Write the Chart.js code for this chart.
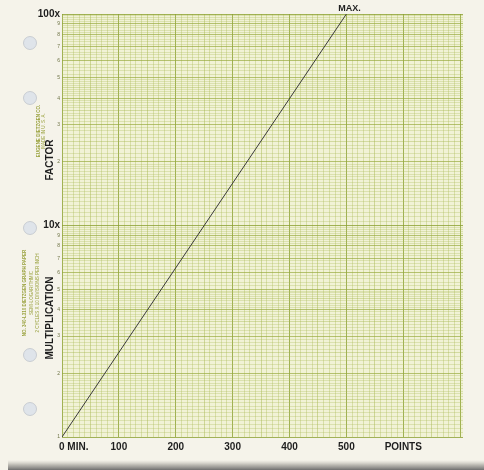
<!DOCTYPE html>
<html>
<head>
<meta charset="utf-8">
<script src="https://cdn.jsdelivr.net/npm/chart.js@4.4.0/dist/chart.umd.min.js"></script>
<style>
  html, body { margin: 0; padding: 0; background: #f5f3ea; }
  #wrap { width: 484px; height: 470px; }
</style>
</head>
<body>
<div id="wrap"><canvas id="paperChart" width="484" height="470"></canvas></div>
<script>
// the one line drawn on the semi-log paper
const pointsX = [0, 500];
const factorY = [1, 100];

// axis labels
const xLabelValues = [0, 100, 200, 300, 400, 500, 600];
const xLabels = ['0 MIN.', '100', '200', '300', '400', '500', 'POINTS'];
const decadeLabels = { 1: '1', 10: '10x', 100: '100x' };
const cycleDigits = [2, 3, 4, 5, 6, 7, 8, 9];

const xMin = 0, xMax = 705;
const paperColor = '#f5f3ea';
const plotColor = '#f1f2d6';
const ink = '#1e1e1e';
const printGreen = '#9aa23e';

// 10 divisions per inch on x
function xGridValues() {
    const vals = [];
    for (let v = 0; v <= 700; v += 10) vals.push({ value: v });
    return vals;
}

// usual 2-cycle log ruling: fine steps 1-2, 2-5, 5-10
function yGridValues() {
    const vals = [];
    [1, 10].forEach(d => {
        for (let i = 0; i < 20; i++) vals.push(d * (1 + i * 0.05));
        for (let i = 0; i < 30; i++) vals.push(d * (2 + i * 0.1));
        for (let i = 0; i < 25; i++) vals.push(d * (5 + i * 0.2));
    });
    vals.push(100);
    return vals.map(v => ({ value: +v.toFixed(3) }));
}

function yKind(v) {
    if (v === 1 || v === 10 || v === 100) return 'decade';
    const d = v >= 10 ? 10 : 1;
    const m = v / d;
    if (Math.abs(m - Math.round(m)) < 1e-6) return 'unit';
    if (m < 5 && Math.abs(m * 2 - Math.round(m * 2)) < 1e-6) return 'half';
    return 'minor';
}

const lineColors = {
    decade: 'rgba(140,160,50,0.8)',
    unit: 'rgba(150,170,60,0.68)',
    half: 'rgba(160,178,70,0.55)',
    minor: 'rgba(172,188,88,0.45)'
};

function vText(ctx, text, x, y, font, color) {
    ctx.save();
    ctx.translate(x, y);
    ctx.rotate(-Math.PI / 2);
    ctx.font = font;
    ctx.fillStyle = color;
    ctx.textAlign = 'center';
    ctx.textBaseline = 'middle';
    ctx.fillText(text, 0, 0);
    ctx.restore();
}

const paperPlugin = {
    id: 'paper',
    beforeDraw(chart) {
        const ctx = chart.ctx;
        const a = chart.chartArea;
        ctx.save();
        ctx.fillStyle = paperColor;
        ctx.fillRect(0, 0, chart.width, chart.height);
        // page edge shadow at the bottom
        const g = ctx.createLinearGradient(0, 460, 0, 470);
        g.addColorStop(0, 'rgba(200,198,190,0)');
        g.addColorStop(0.5, 'rgba(170,168,162,0.8)');
        g.addColorStop(1, 'rgba(110,110,110,1)');
        ctx.fillStyle = g;
        ctx.fillRect(8, 460, chart.width - 8, 10);
        // binder holes
        [43, 98, 228, 355, 409].forEach(y => {
            ctx.beginPath();
            ctx.arc(30, y, 6.5, 0, Math.PI * 2);
            ctx.fillStyle = '#dfe4ea';
            ctx.fill();
            ctx.strokeStyle = 'rgba(175,180,190,0.7)';
            ctx.lineWidth = 0.8;
            ctx.stroke();
        });
        ctx.fillStyle = plotColor;
        ctx.fillRect(a.left, a.top, a.right - a.left, a.bottom - a.top);
        ctx.restore();
    },
    afterDraw(chart) {
        const ctx = chart.ctx;
        const xs = chart.scales.x;
        const a = chart.chartArea;
        ctx.save();
        ctx.font = 'bold 10px "Liberation Sans", Arial, sans-serif';
        ctx.fillStyle = ink;
        ctx.textBaseline = 'middle';
        xLabelValues.forEach((v, i) => {
            const px = xs.getPixelForValue(v);
            ctx.textAlign = i === 0 ? 'left' : 'center';
            ctx.fillText(xLabels[i], i === 0 ? px - 3 : px, a.bottom + 10);
        });
        ctx.font = 'bold 9px "Liberation Sans", Arial, sans-serif';
        ctx.textAlign = 'center';
        ctx.fillText('MAX.', xs.getPixelForValue(pointsX[1]) + 3, a.top - 5);
        ctx.restore();

        const bold = 'bold 10px "Liberation Sans", Arial, sans-serif';
        vText(ctx, 'FACTOR', 50, 160, bold, ink);
        vText(ctx, 'MULTIPLICATION', 50, 318, bold, ink);
        const tiny = '4.5px "Liberation Sans", Arial, sans-serif';
        vText(ctx, 'EUGENE DIETZGEN CO.', 39, 131, 'bold ' + tiny, printGreen);
        vText(ctx, 'MADE IN U. S. A.', 44, 131, tiny, printGreen);
        vText(ctx, 'NO. 340-L310 DIETZGEN GRAPH PAPER', 25, 293, 'bold ' + tiny, printGreen);
        vText(ctx, 'SEMI-LOGARITHMIC', 32, 293, tiny, printGreen);
        vText(ctx, '2 CYCLES X 10 DIVISIONS PER INCH', 38, 293, tiny, printGreen);
    }
};

const ctx = document.getElementById('paperChart').getContext('2d');
new Chart(ctx, {
    type: 'scatter',
    data: {
        datasets: [{
            label: 'Factor',
            data: pointsX.map((x, i) => ({ x: x, y: factorY[i] })),
            showLine: true,
            borderColor: '#3a3a3a',
            borderWidth: 1,
            pointRadius: 0,
            fill: false
        }]
    },
    options: {
        responsive: false,
        animation: false,
        devicePixelRatio: 1,
        layout: { padding: { left: 0, top: 14, right: 21, bottom: 33 } },
        plugins: { legend: { display: false }, tooltip: { enabled: false } },
        scales: {
            x: {
                type: 'linear',
                min: xMin,
                max: xMax,
                afterBuildTicks: scale => { scale.ticks = xGridValues(); },
                ticks: { display: false },
                grid: {
                    drawTicks: false,
                    color: c => {
                        const v = c.tick ? c.tick.value : 0;
                        if (v % 100 === 0) return lineColors.decade;
                        if (v % 50 === 0) return lineColors.half;
                        return lineColors.minor;
                    },
                    lineWidth: c => (c.tick && c.tick.value % 100 === 0) ? 1 : 0.8
                },
                border: { display: false }
            },
            y: {
                type: 'logarithmic',
                min: 1,
                max: 100,
                afterBuildTicks: scale => { scale.ticks = yGridValues(); },
                afterFit: scale => { scale.width = 62; },
                ticks: {
                    autoSkip: false,
                    padding: 2,
                    color: c => {
                        const v = c.tick.value;
                        return (v === 10 || v === 100) ? ink : '#6f7446';
                    },
                    font: c => {
                        const v = c.tick.value;
                        if (v === 10 || v === 100) {
                            return { family: '"Liberation Sans", Arial, sans-serif', size: 10, weight: 'bold' };
                        }
                        return { family: '"Liberation Sans", Arial, sans-serif', size: 5 };
                    },
                    callback: value => {
                        const k = yKind(value);
                        if (k === 'decade') return decadeLabels[value];
                        if (k === 'unit') {
                            const m = Math.round(value >= 10 ? value / 10 : value);
                            return cycleDigits.includes(m) ? String(m) : '';
                        }
                        return '';
                    }
                },
                grid: {
                    drawTicks: false,
                    color: c => lineColors[yKind(c.tick ? c.tick.value : 1)],
                    lineWidth: c => {
                        const k = yKind(c.tick ? c.tick.value : 1);
                        return (k === 'decade' || k === 'unit') ? 1 : 0.7;
                    }
                },
                border: { display: false }
            }
        }
    },
    plugins: [paperPlugin]
});
</script>
</body>
</html>
